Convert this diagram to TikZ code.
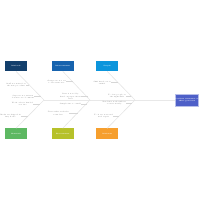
\documentclass[tikz,border=0pt]{standalone}
\usetikzlibrary{calc}
\definecolor{catnavy}{HTML}{133F6C}
\definecolor{catblue}{HTML}{1763AE}
\definecolor{catsky}{HTML}{0C95DC}
\definecolor{catgreen}{HTML}{5DB862}
\definecolor{catolive}{HTML}{B6C12A}
\definecolor{catorange}{HTML}{F69F2E}
\definecolor{headblue}{HTML}{4E60C8}
\tikzset{
  catbox/.style={fill=#1, minimum width=22mm, minimum height=10.6mm, inner sep=0pt,
    text=white, font=\fontsize{4.5}{5}\selectfont\bfseries},
  headbox/.style={fill=headblue, draw=headblue!40, line width=0.3mm, minimum width=22mm,
    minimum height=12mm, inner sep=0pt, text=white, align=center,
    font=\fontsize{4.5}{6}\selectfont\bfseries},
  cause/.style={text=black!60, font=\fontsize{4.6}{6}\selectfont, align=center,
    inner sep=0.4pt, anchor=east},
  bone/.style={draw=black!10, line width=0.6mm},
  spine/.style={draw=black!9, line width=0.8mm},
  leader/.style={draw=black!16, line width=0.25mm}
}
\begin{document}
\begin{tikzpicture}[x=1mm, y=-1mm]
  \useasboundingbox (0,0) rectangle (200,200);
  % category boxes
  \node[catbox=catnavy]   (c1) at (16,66)    {Methods};
  \node[catbox=catblue]   (c2) at (62.8,66)  {Measurements};
  \node[catbox=catsky]    (c3) at (107.2,66) {People};
  \node[catbox=catgreen]  (c4) at (16,133.6)    {Materials};
  \node[catbox=catolive]  (c5) at (62.8,133.6)  {Environment};
  \node[catbox=catorange] (c6) at (107.2,133.6) {Machines};
  \node[headbox] (head) at (187,100) {Problem statement or\\effect goes here};
  % spine and bones
  \coordinate (j1) at (44,100); \coordinate (j2) at (90,100);
  \coordinate (j3) at (135,100);
  \draw[spine] (j1) -- (head.west);
  \draw[bone] (c1.south) -- (j1); \draw[bone] (c4.north) -- (j1);
  \draw[bone] (c2.south) -- (j2); \draw[bone] (c5.north) -- (j2);
  \draw[bone] (c3.south) -- (j3); \draw[bone] (c6.north) -- (j3);
  % causes, first group
  \node[cause] (t1a) at (26,85)    {Staff not trained on\\the new procedure};
  \node[cause] (t1b) at (34,96.5)  {Steps are not written\\down in one document};
  \node[cause] (t1c) at (33,104)   {Work order is handed\\over late};
  \node[cause] (t1d) at (21,116.5) {Checks are skipped in\\busy hours};
  \coordinate (p1a) at (29,85);    \coordinate (p1b) at (40.5,96.5);
  \coordinate (p1c) at (40,104);   \coordinate (p1d) at (27.5,116.5);
  % causes, second group
  \node[cause] (t2a) at (66,81.5)  {Gauges are not set\\to the same zero};
  \node[cause] (t2b) at (81,96.5)  {Data is noted by\\hand on paper sheets\\later};
  \node[cause] (t2c) at (81,104)   {Sample size too small};
  \node[cause] (t2d) at (69,113.5) {Test results reach the\\team late};
  \coordinate (p2a) at (72.5,81.5); \coordinate (p2b) at (87.5,96.5);
  \coordinate (p2c) at (87,104);    \coordinate (p2d) at (77.5,113.5);
  % causes, third group
  \node[cause] (t3a) at (111,82.5) {Shift hand-over is\\rushed};
  \node[cause] (t3b) at (126,96)   {Too few people on\\the night shift};
  \node[cause] (t3c) at (126,103)  {New hires work without\\a senior nearby};
  \node[cause] (t3d) at (113,116)  {Tools are worn and\\need repair};
  \coordinate (p3a) at (117.5,82.5); \coordinate (p3b) at (131,96);
  \coordinate (p3c) at (132,103);    \coordinate (p3d) at (119,116);
  \foreach \g in {1,2,3}
    \foreach \k in {a,b,c,d}
      \draw[leader] (t\g\k.east) -- (p\g\k);
\end{tikzpicture}
\end{document}
